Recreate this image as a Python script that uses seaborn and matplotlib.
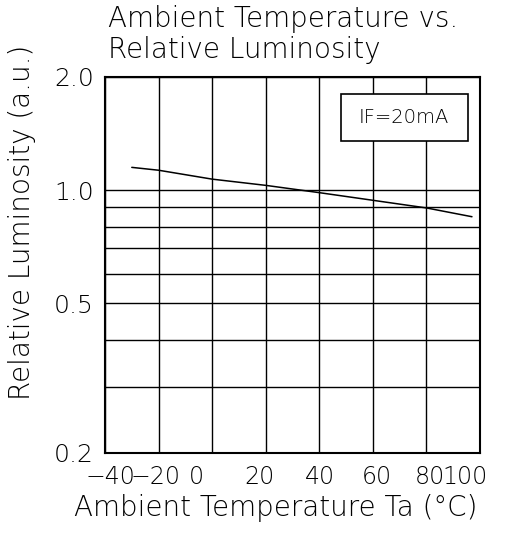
import matplotlib
matplotlib.use("Agg")
import matplotlib.pyplot as plt
import matplotlib.patches as mpatches
import seaborn as sns
import pandas as pd

# Data
temperature = [-30, -20, 0, 20, 40, 60, 80, 97]
luminosity = [1.15, 1.13, 1.07, 1.03, 0.985, 0.94, 0.897, 0.85]

xgrid = [-40, -20, 0, 20, 40, 60, 80, 100]
ygrid = [0.2, 0.3, 0.4, 0.5, 0.6, 0.7, 0.8, 0.9, 1.0, 2.0]
ytick_vals = [0.2, 0.5, 1.0, 2.0]
ytick_labels = ["0.2", "0.5", "1.0", "2.0"]
xtick_pos = [-37.8, -21.0, -6.0, 17.5, 40.3, 61.5, 81.3, 94.6]
xtick_labels = ["\u221240", "\u221220", "0", "20", "40", "60", "80", "100"]

sns.set_style("white")
plt.rcParams['font.family'] = ['DejaVu Sans']
FW = "light"

W, H = 513, 533
fig = plt.figure(figsize=(W / 100, H / 100), dpi=100)
ax = fig.add_axes([105 / W, 1 - 453 / H, 375 / W, 376 / H])

df = pd.DataFrame({"Ta": temperature, "L": luminosity})
sns.lineplot(data=df, x="Ta", y="L", ax=ax, color="black", linewidth=1.1)

ax.set_yscale("log")
ax.set_xlim(-40, 100)
ax.set_ylim(0.2, 2.0)

for gx in xgrid:
    ax.axvline(gx, color="black", linewidth=1.0, zorder=1)
for gy in ygrid:
    ax.axhline(gy, color="black", linewidth=1.0, zorder=1)

ax.minorticks_off()
ax.set_yticks(ytick_vals)
ax.set_yticklabels(ytick_labels, fontweight=FW)
ax.set_xticks(xtick_pos)
ax.set_xticklabels(xtick_labels, fontweight=FW)
ax.tick_params(axis="x", length=0, labelsize=17, colors="black", pad=9)
ax.tick_params(axis="y", length=0, labelsize=18, colors="black", pad=8)
ax.set_xlabel("")
ax.set_ylabel("")

for s in ax.spines.values():
    s.set_visible(True)
    s.set_color("black")
    s.set_linewidth(1.5)

# Legend-like box
box = mpatches.Rectangle((0.629, 0.830), 0.339, 0.125, transform=ax.transAxes,
                         facecolor="white", edgecolor="black", linewidth=1.2, zorder=5)
ax.add_patch(box)
ax.text(0.798, 0.892, "IF=20mA", transform=ax.transAxes, ha="center", va="center",
        fontsize=14, zorder=6, color="black", fontweight=FW)

fig.text(108 / W, 1 - 5 / H, "Ambient Temperature vs.\nRelative Luminosity",
         ha="left", va="top", fontsize=20, linespacing=1.15, color="black", fontweight=FW)
fig.text(276 / W, 1 - 508 / H, "Ambient Temperature Ta (\u00b0C)",
         ha="center", va="center", fontsize=20, color="black", fontweight=FW)
fig.text(22 / W, 1 - 222 / H, "Relative Luminosity (a.u.)",
         ha="center", va="center", rotation=90, fontsize=20, color="black", fontweight=FW)

fig.savefig("out.png", dpi=100, facecolor="white")
